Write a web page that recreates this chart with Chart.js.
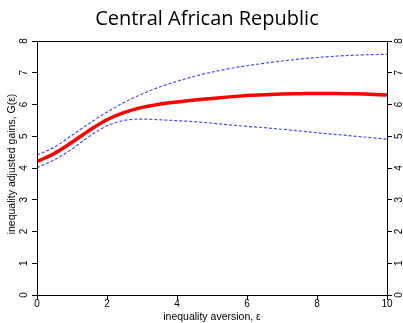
<!DOCTYPE html>
<html>
<head>
<meta charset="utf-8">
<script src="https://cdn.jsdelivr.net/npm/chart.js@4"></script>
<style>
  html, body { margin: 0; padding: 0; background: #fff; }
  #wrap { width: 403px; height: 323px; position: relative; }
</style>
</head>
<body>
<div id="wrap"><canvas id="c" width="403" height="323"></canvas></div>
<script>
// Inequality aversion grid and adjusted gains G(ε) with its confidence band
const epsilon = [0, 0.5, 1, 1.5, 2, 2.5, 3, 3.5, 4, 4.5, 5, 5.5, 6, 6.5, 7, 7.5, 8, 8.5, 9, 9.5, 10];
const gains   = [4.20, 4.46, 4.81, 5.19, 5.52, 5.75, 5.91, 6.01, 6.08, 6.14, 6.19, 6.24, 6.28, 6.31, 6.33, 6.34, 6.35, 6.35, 6.34, 6.32, 6.30];
const upper   = [4.41, 4.66, 5.03, 5.41, 5.76, 6.07, 6.33, 6.55, 6.73, 6.89, 7.02, 7.13, 7.22, 7.30, 7.37, 7.43, 7.48, 7.52, 7.55, 7.57, 7.58];
const lower   = [4.01, 4.26, 4.60, 5.00, 5.33, 5.50, 5.54, 5.52, 5.49, 5.46, 5.41, 5.36, 5.31, 5.27, 5.22, 5.17, 5.11, 5.06, 5.01, 4.96, 4.91];
const xTicks  = [0, 2, 4, 6, 8, 10];
const yTicks  = [0, 1, 2, 3, 4, 5, 6, 7, 8];

const titleText = 'Central African Republic';
const xTitle = 'inequality aversion, \u03b5';
const yTitle = 'inequality adjusted gains, G(\u03b5)';

const pts = ys => epsilon.map((x, i) => ({ x, y: ys[i] }));

const tickFont = '10px "Liberation Sans", Arial, sans-serif';

// Box around the plot, tick labels (rotated on the y sides), and axis titles
const framePlugin = {
  id: 'frame',
  afterDraw(chart) {
    const { ctx, chartArea: a, scales } = chart;
    ctx.save();
    ctx.strokeStyle = '#000';
    ctx.lineWidth = 1;
    ctx.strokeRect(a.left + 0.5, a.top + 0.5, a.right - a.left, a.bottom - a.top);

    ctx.fillStyle = '#000';
    ctx.font = tickFont;
    ctx.textAlign = 'center';
    ctx.textBaseline = 'middle';
    const y = scales.y;
    yTicks.forEach(v => {
      const py = y.getPixelForValue(v);
      [a.left - 13, a.right + 12].forEach(px => {
        ctx.save();
        ctx.translate(px, py);
        ctx.rotate(-Math.PI / 2);
        ctx.fillText(String(v), 0, 0);
        ctx.restore();
      });
    });
    const x = scales.x;
    xTicks.forEach(v => {
      ctx.fillText(String(v), x.getPixelForValue(v), a.bottom + 9);
    });

    ctx.font = '10.5px "Liberation Sans", Arial, sans-serif';
    ctx.fillText(xTitle, (a.left + a.right) / 2, 317);
    ctx.save();
    ctx.translate(12, 164);
    ctx.rotate(-Math.PI / 2);
    ctx.fillText(yTitle, 0, 0);
    ctx.restore();

    ctx.font = '20px "Open Sans", "DejaVu Sans", sans-serif';
    ctx.textBaseline = 'alphabetic';
    ctx.fillText(titleText, 207, 25);
    ctx.restore();
  }
};

const grid = { drawOnChartArea: false, drawTicks: true, tickLength: 5, color: '#000', tickColor: '#000' };

new Chart(document.getElementById('c'), {
  type: 'line',
  data: {
    datasets: [
      { data: pts(upper), borderColor: 'rgba(40,40,255,0.85)', borderWidth: 1.2, borderDash: [3, 2], pointRadius: 0, cubicInterpolationMode: 'monotone', order: 2 },
      { data: pts(lower), borderColor: 'rgba(40,40,255,0.85)', borderWidth: 1.2, borderDash: [3, 2], pointRadius: 0, cubicInterpolationMode: 'monotone', order: 2 },
      { data: pts(gains), borderColor: '#ff0000', borderWidth: 3.5, pointRadius: 0, cubicInterpolationMode: 'monotone', order: 1 }
    ]
  },
  options: {
    responsive: false,
    animation: false,
    events: [],
    layout: { padding: { left: 37, right: 16, top: 41, bottom: 28 } },
    plugins: { legend: { display: false }, tooltip: { enabled: false }, title: { display: false } },
    scales: {
      x: {
        type: 'linear', min: 0, max: 10,
        afterBuildTicks: s => { s.ticks = xTicks.map(v => ({ value: v })); },
        grid: grid,
        border: { display: true, color: '#000', width: 1 },
        ticks: { display: false },
        afterFit: s => { s.height = 0; }
      },
      y: {
        type: 'linear', min: 0, max: 8, position: 'left',
        afterBuildTicks: s => { s.ticks = yTicks.map(v => ({ value: v })); },
        grid: grid,
        border: { display: true, color: '#000', width: 1 },
        ticks: { display: false },
        afterFit: s => { s.width = 0; }
      },
      y2: {
        type: 'linear', min: 0, max: 8, position: 'right',
        afterBuildTicks: s => { s.ticks = yTicks.map(v => ({ value: v })); },
        grid: grid,
        border: { display: true, color: '#000', width: 1 },
        ticks: { display: false },
        afterFit: s => { s.width = 0; }
      }
    }
  },
  plugins: [framePlugin]
});
</script>
</body>
</html>
